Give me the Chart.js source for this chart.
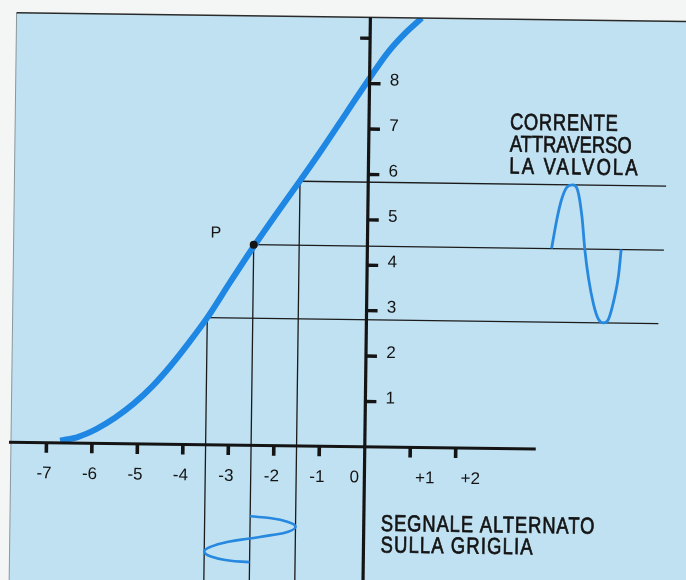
<!DOCTYPE html>
<html lang="it">
<head>
<meta charset="utf-8">
<title>Caratteristica di griglia della valvola</title>
<script src="https://cdn.jsdelivr.net/npm/chart.js@4.4.1/dist/chart.umd.min.js"></script>
<style>
  html, body { margin: 0; padding: 0; background: #f4f6f6; }
  canvas { display: block; }
</style>
</head>
<body>
<canvas id="chart" width="686" height="580"></canvas>
<script>
// grid voltage (V) -> plate current (mA)
const curveX = [-6.7, -6.3, -5.9, -5.5, -5.1, -4.7, -4.3, -3.9, -3.5, -3.0, -2.5, -2.0, -1.5, -1.0, -0.5, 0, 0.4, 0.75, 1.13];
const curveY = [0.05, 0.14, 0.32, 0.57, 0.88, 1.26, 1.72, 2.24, 2.80, 3.60, 4.38, 5.12, 5.84, 6.58, 7.35, 8.12, 8.70, 9.10, 9.46];

// grid swing: negative peak, working point P, positive peak
const swingX = [-3.5, -2.5, -1.5];
const swingY = [2.8, 4.42, 5.83];
const levelEndX = [6.42, 6.52, 6.55];

// plate current waveform
const currentWaveX = [4.05, 4.16, 4.26, 4.37, 4.49, 4.61, 4.71, 4.78, 4.87, 4.99, 5.10, 5.21, 5.32, 5.43, 5.53, 5.58];
const currentWaveY = [4.42, 5.08, 5.52, 5.78, 5.83, 5.70, 5.12, 4.42, 3.78, 3.20, 2.88, 2.80, 2.88, 3.28, 3.85, 4.42];

// alternating signal on the grid
const signalWaveX = [-2.5, -2.03, -1.72, -1.5, -1.66, -2.03, -2.5, -2.97, -3.35, -3.5, -3.35, -2.96, -2.5];
const signalWaveY = [-1.56, -1.60, -1.66, -1.77, -1.89, -1.97, -2.05, -2.13, -2.24, -2.35, -2.46, -2.54, -2.57];

const xTickValues = [-7, -6, -5, -4, -3, -2, -1, 1, 2];
const xLabelValues = [-7, -6, -5, -4, -3, -2, -1, 0, 1, 2];
const xLabels = ['-7', '-6', '-5', '-4', '-3', '-2', '-1', '0', '+1', '+2'];
const yTickValues = [1, 2, 3, 4, 5, 6, 7, 8, 9];
const yLabels = ['1', '2', '3', '4', '5', '6', '7', '8'];
const xAxisEnd = 3.76;

const currentNote = ['CORRENTE', 'ATTRAVERSO', 'LA VALVOLA'];
const signalNote = ['SEGNALE ALTERNATO', 'SULLA GRIGLIA'];
const pointName = 'P';

const BLUE = '#1e86e3';
const INK = '#141414';
const PANEL = '#c0e1f2';
const TILT = 0.75 * Math.PI / 180;

const pts = (xs, ys) => xs.map((x, i) => ({ x, y: ys[i] }));

const guideLines = [];
swingX.forEach((x, i) => {
  guideLines.push({ data: [{ x, y: swingY[i] }, { x: levelEndX[i], y: swingY[i] }] });
  guideLines.push({ data: [{ x, y: swingY[i] }, { x, y: -3 }] });
});

// condensed lettering: squeeze a regular face horizontally
function narrowText(ctx, text, x, y, spacing) {
  ctx.save();
  ctx.translate(x, y);
  ctx.scale(0.8, 1);
  ctx.letterSpacing = spacing + 'px';
  ctx.strokeStyle = INK;
  ctx.lineWidth = 0.7;
  ctx.fillText(text, 0, 0);
  ctx.strokeText(text, 0, 0);
  ctx.restore();
}

const sheet = {
  id: 'sheet',
  beforeDraw(chart) {
    const { ctx, width, height, chartArea: a } = chart;
    ctx.save();
    ctx.fillStyle = '#f4f6f6';
    ctx.fillRect(0, 0, width, height);
    // the printed plate sits slightly rotated on the page
    ctx.translate(width / 2, height / 2);
    ctx.rotate(TILT);
    ctx.translate(-width / 2, -height / 2);
    ctx.fillStyle = PANEL;
    ctx.fillRect(a.left, a.top, width + 40 - a.left, height + 40 - a.top);
  },
  afterDatasetsDraw(chart) {
    const { ctx, width, height, chartArea: a } = chart;
    const sx = chart.scales.x, sy = chart.scales.y;
    const x0 = sx.getPixelForValue(0), y0 = sy.getPixelForValue(0);

    // frame
    ctx.fillStyle = '#8a979c';
    ctx.fillRect(a.left - 0.5, a.top, 1, height + 40);
    ctx.fillStyle = '#2a2a2a';
    ctx.fillRect(a.left, a.top - 0.8, width + 40, 1.6);

    // axes and ticks
    ctx.fillStyle = INK;
    ctx.fillRect(x0 - 1.6, a.top, 3.2, height + 40);
    ctx.fillRect(a.left - 2, y0 - 1.5, sx.getPixelForValue(xAxisEnd) - a.left + 2, 3);
    xTickValues.forEach(v => {
      ctx.fillRect(sx.getPixelForValue(v) - 1.8, y0, 3.6, 10);
    });
    const top = Math.max(...yTickValues);
    yTickValues.forEach(v => {
      const py = sy.getPixelForValue(v);
      if (v === top) ctx.fillRect(x0 - 10, py - 1.7, 10, 3.4);
      else ctx.fillRect(x0, py - 1.7, 11, 3.4);
    });

    ctx.font = '17px "Liberation Sans", Arial, sans-serif';
    ctx.textAlign = 'center';
    ctx.textBaseline = 'middle';
    xLabelValues.forEach((v, i) => {
      const dx = v < 0 ? -2 : (v === 0 ? -10 : 15);
      ctx.fillText(xLabels[i], sx.getPixelForValue(v) + dx, y0 + 31);
    });
    yLabels.forEach((t, i) => {
      ctx.fillText(t, x0 + 25, sy.getPixelForValue(yTickValues[i]) - 3);
    });

    ctx.font = '16px "Liberation Sans", Arial, sans-serif';
    ctx.fillText(pointName, sx.getPixelForValue(swingX[1]) - 38, sy.getPixelForValue(swingY[1]) - 11);

    ctx.font = '23px "Liberation Sans", Arial, sans-serif';
    ctx.textAlign = 'left';
    ctx.textBaseline = 'alphabetic';
    const cs = [0.8, 0, 2.7];
    const cx = sx.getPixelForValue(3.1), cy = sy.getPixelForValue(7.03);
    currentNote.forEach((t, i) => narrowText(ctx, t, cx, cy + i * 22, cs[i]));
    const ss = [1.1, 1.45];
    const gx = sx.getPixelForValue(0.376), gy = sy.getPixelForValue(-1.845);
    signalNote.forEach((t, i) => narrowText(ctx, t, gx, gy + i * 21.5, ss[i]));
  },
  afterDraw(chart) {
    chart.ctx.restore();
  }
};

new Chart(document.getElementById('chart'), {
  type: 'scatter',
  data: {
    datasets: [
      {
        label: 'P',
        data: [{ x: swingX[1], y: swingY[1] }],
        pointRadius: 4,
        pointBorderWidth: 0,
        pointBackgroundColor: INK,
        order: 0
      },
      {
        label: 'caratteristica',
        data: pts(curveX, curveY),
        showLine: true,
        borderColor: BLUE,
        borderWidth: 6,
        cubicInterpolationMode: 'monotone',
        pointRadius: 0,
        clip: 0,
        order: 1
      },
      {
        label: 'corrente',
        data: pts(currentWaveX, currentWaveY),
        showLine: true,
        borderColor: '#2688de',
        borderWidth: 2.8,
        cubicInterpolationMode: 'monotone',
        pointRadius: 0,
        clip: false,
        order: 2
      },
      {
        label: 'segnale',
        data: pts(signalWaveX, signalWaveY),
        showLine: true,
        borderColor: '#2688de',
        borderWidth: 2.6,
        tension: 0.45,
        pointRadius: 0,
        clip: false,
        order: 2
      },
      ...guideLines.map(g => ({
        data: g.data,
        showLine: true,
        borderColor: '#1b1b1b',
        borderWidth: 1.3,
        pointRadius: 0,
        clip: false,
        order: 3
      }))
    ]
  },
  options: {
    responsive: false,
    animation: false,
    devicePixelRatio: 1,
    events: [],
    layout: { padding: { left: 13, top: 17, right: 0, bottom: 0 } },
    plugins: {
      legend: { display: false },
      tooltip: { enabled: false }
    },
    scales: {
      x: { type: 'linear', min: -7.78, max: 6.93, display: false },
      y: { type: 'linear', min: -2.85, max: 9.46, display: false }
    }
  },
  plugins: [sheet]
});
</script>
</body>
</html>
